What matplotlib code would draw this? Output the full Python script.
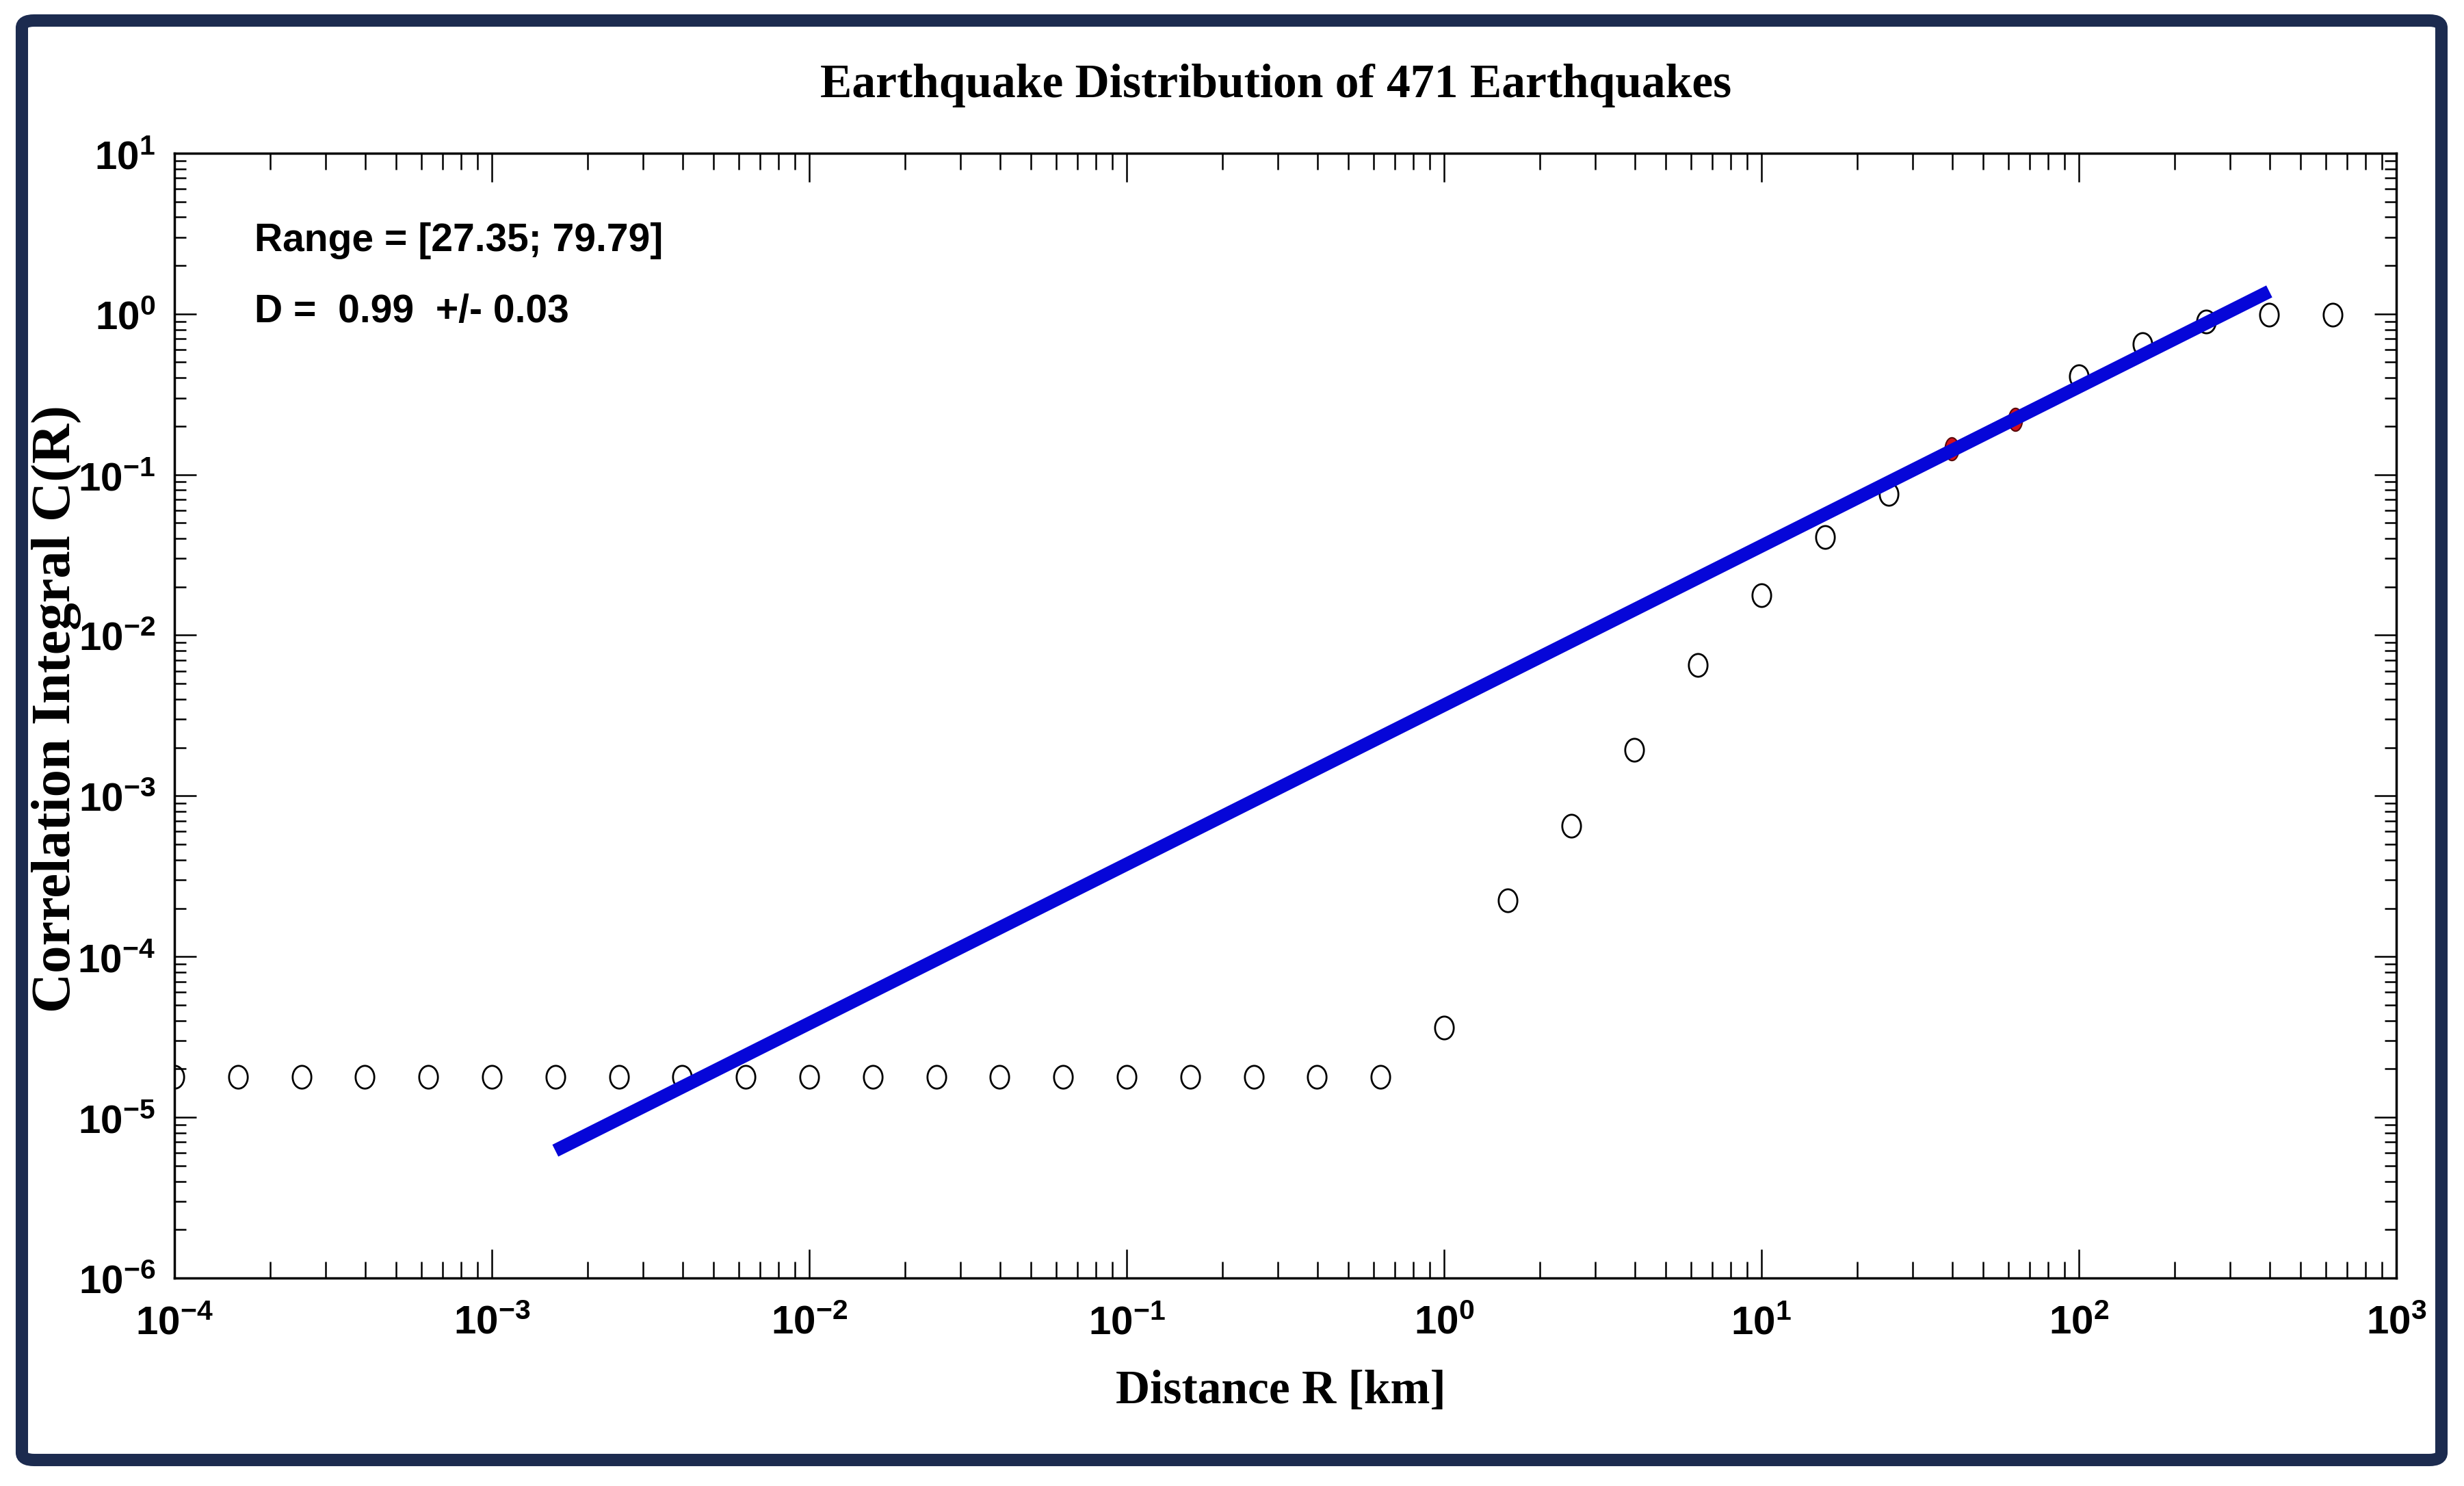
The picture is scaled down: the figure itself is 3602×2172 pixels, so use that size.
"""Correlation integral plot for the earthquake catalogue."""

import numpy as np
import matplotlib
matplotlib.use('Agg')
import matplotlib.pyplot as plt
from matplotlib.path import Path
from matplotlib.patches import FancyBboxPatch
from matplotlib.ticker import LogLocator, FuncFormatter, NullFormatter

DPI = 100
FIGSIZE = (36.02, 21.72)
NAVY = '#1c2b4f'
SANS = ['Liberation Sans', 'DejaVu Sans']
SERIF = ['Liberation Serif', 'DejaVu Serif']

TITLE = 'Earthquake Distribution of 471 Earthquakes'
XLABEL = 'Distance R [km]'
YLABEL = 'Correlation Integral C(R)'

# distance bins [km] and correlation integral
distance = [
    1.000e-4, 1.585e-4, 2.512e-4, 3.981e-4, 6.310e-4,
    1.000e-3, 1.585e-3, 2.512e-3, 3.981e-3, 6.310e-3,
    1.000e-2, 1.585e-2, 2.512e-2, 3.981e-2, 6.310e-2,
    1.000e-1, 1.585e-1, 2.512e-1, 3.981e-1, 6.310e-1,
    1.000, 1.585, 2.512, 3.981, 6.310,
    10.00, 15.85, 25.12, 39.81, 63.10,
    100.0, 158.5, 251.2, 398.1, 631.0,
]
corr_integral = [
    1.78e-5, 1.78e-5, 1.78e-5, 1.78e-5, 1.78e-5,
    1.78e-5, 1.78e-5, 1.78e-5, 1.78e-5, 1.78e-5,
    1.78e-5, 1.78e-5, 1.78e-5, 1.78e-5, 1.78e-5,
    1.78e-5, 1.78e-5, 1.78e-5, 1.78e-5, 1.78e-5,
    3.6e-5, 2.24e-4, 6.5e-4, 1.94e-3, 6.56e-3,
    1.77e-2, 4.08e-2, 7.6e-2, 0.144, 0.221,
    0.41, 0.65, 0.90, 0.99, 0.99,
]

# fitted power law (end points of the drawn line)
fit_range = [27.35, 79.79]
fit_dim = 0.99
fit_err = 0.03
fit_x = [1.585e-3, 398.1]
fit_y = [6.2e-6, 1.38]

theta = np.linspace(0, 2 * np.pi, 73)
OVAL = Path(np.column_stack([0.82 * np.cos(theta), np.sin(theta)]),
            closed=True)
NARROW = Path(np.column_stack([0.6 * np.cos(theta), np.sin(theta)]),
              closed=True)


def exp_label(val, pos):
  """Format a decade as 10^n."""
  return r'$\mathbf{10^{%d}}$' % int(round(np.log10(val)))


def build_plot():
  """Draw the correlation integral with its fit."""
  plt.rcParams['mathtext.fontset'] = 'custom'
  plt.rcParams['mathtext.bf'] = 'Liberation Sans:bold'
  plt.rcParams['mathtext.rm'] = 'Liberation Sans:bold'

  fig = plt.figure(figsize=FIGSIZE, dpi=DPI, facecolor='white')
  ax = fig.add_axes([0.0708, 0.140, 0.9017, 0.7569])

  r = np.array(distance)
  c = np.array(corr_integral)
  in_fit = (r >= fit_range[0]) & (r <= fit_range[1])

  ax.plot(r[~in_fit], c[~in_fit], linestyle='none', marker=OVAL,
          markersize=24, markerfacecolor='none', markeredgecolor='black',
          markeredgewidth=2, zorder=3)
  ax.plot(r[in_fit], c[in_fit], linestyle='none', marker=NARROW,
          markersize=24, markerfacecolor='#d4121e', markeredgecolor='#5a0a0a',
          markeredgewidth=1.5, zorder=4)
  ax.plot(fit_x, fit_y, color='#0606d8', linewidth=14,
          solid_capstyle='butt', zorder=5)

  ax.set_xscale('log')
  ax.set_yscale('log')
  ax.set_xlim(1e-4, 1e3)
  ax.set_ylim(1e-6, 1e1)

  for axis in (ax.xaxis, ax.yaxis):
    axis.set_major_locator(LogLocator(base=10, numticks=20))
    axis.set_minor_locator(LogLocator(base=10, subs=np.arange(2, 10),
                                      numticks=20))
    axis.set_major_formatter(FuncFormatter(exp_label))
    axis.set_minor_formatter(NullFormatter())

  ax.tick_params(axis='x', which='major', direction='in', top=True,
                 length=30, width=1.8, pad=26, labelsize=42)
  ax.tick_params(axis='x', which='minor', direction='in', top=True,
                 length=17, width=1.8)
  ax.tick_params(axis='y', which='major', direction='in', right=True,
                 length=23, width=1.8, pad=20, labelsize=42)
  ax.tick_params(axis='y', which='minor', direction='in', right=True,
                 length=12, width=1.8)
  for spine in ax.spines.values():
    spine.set_linewidth(2.5)

  ax.set_xlabel(XLABEL, family=SERIF, fontweight='bold', fontsize=50,
                va='baseline')
  ax.xaxis.set_label_coords(0.4978, -0.1113)
  ax.set_ylabel(YLABEL, family=SERIF, fontweight='bold', fontsize=58)
  ax.yaxis.set_label_coords(-0.042, 0.506)

  fig.text(0.5177, 0.9346, TITLE, family=SERIF, fontweight='bold',
           fontsize=50, ha='center', va='baseline')

  ax.text(0.036, 0.913, f'Range = [{fit_range[0]:.2f}; {fit_range[1]:.2f}]',
          transform=ax.transAxes, family=SANS, fontweight='bold',
          fontsize=41, va='baseline')
  ax.text(0.036, 0.8495, f'D =  {fit_dim:.2f}  +/- {fit_err:.2f}',
          transform=ax.transAxes, family=SANS, fontweight='bold',
          fontsize=41, va='baseline')

  # dark frame around the whole picture
  frame = FancyBboxPatch((0.00888, 0.0175), 0.98196, 0.96869,
                         boxstyle='round,pad=0,rounding_size=0.005',
                         transform=fig.transFigure, facecolor='none',
                         edgecolor=NAVY, linewidth=13, zorder=10)
  fig.patches.append(frame)

  fig.savefig('out.png', dpi=DPI, facecolor='white')


if __name__ == '__main__':
  build_plot()
